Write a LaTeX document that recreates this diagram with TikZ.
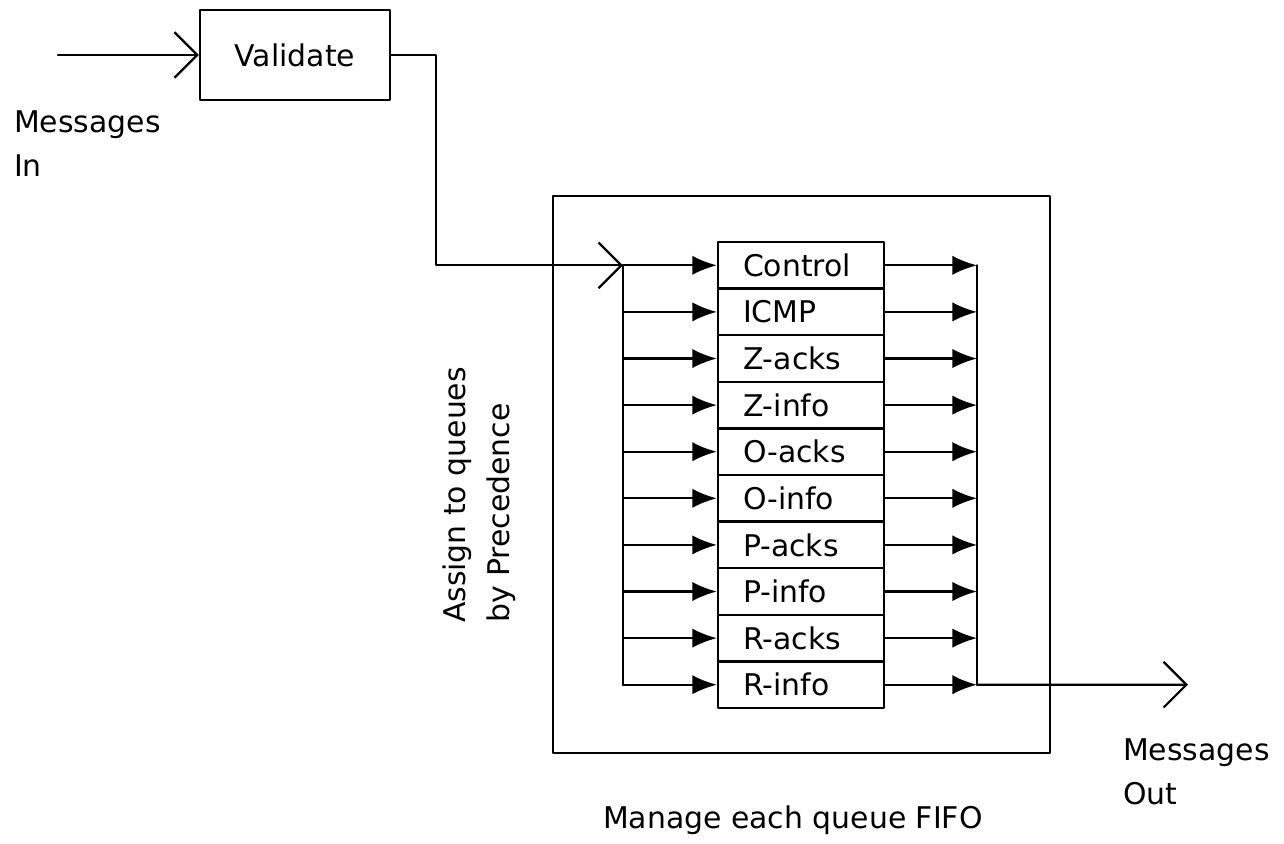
\documentclass[tikz,border=0pt]{standalone}
\usepackage{fontspec}
\setmainfont{DejaVu Sans}
\usetikzlibrary{arrows.meta}
\newcommand\qfont{\fontsize{17}{25}\selectfont}
\begin{document}
\begin{tikzpicture}[x=0.02cm,y=-0.02cm,font=\qfont,line join=round,line cap=round,line width=1.3pt,
  >={Latex[length=14pt,width=11pt]},
  open/.style={-{Straight Barb[length=13pt,width=26pt]}},
  queue/.style={draw,minimum height=0.932cm,text width=2.32cm,inner xsep=0.5cm,inner ysep=0pt,align=left}]
\useasboundingbox (0,0) rectangle (1284,843);
\path
(58,55) coordinate (msgin)
(623,0) coordinate (bin)
(977,0) coordinate (bout)
(1188,684.7) coordinate (msgout)
;
\node[draw,minimum width=3.8cm,minimum height=1.8cm] (val) at (295,55) {Validate};
\node[draw,minimum width=9.94cm,minimum height=11.14cm] (mgr) at (801.5,474.5) {};
\foreach \q [count=\i from 0] in {Control,ICMP,Z-acks,Z-info,O-acks,O-info,P-acks,P-info,R-acks,R-info}
\node[queue] (q\i) at (801,265.3+46.6*\i) {\q};
% input and assignment
\draw[open] (msgin) -- (val.west);
\draw[open] (val.east) -- ++(45,0) |- (q0.west -| bin);
\draw (q0.west -| bin) -- (q9.west -| bin) (q0.east -| bout) -- (q9.east -| bout);
\foreach \i in {0,...,9} {
\draw[->] (q\i.west -| bin) -- (q\i.west);
\draw[->] (q\i.east) -- (q\i.east -| bout);
}
\draw[open] (q9.east -| bout) -- (msgout);
% labels
\node[anchor=base west,align=left,inner sep=0pt] (lin) at (13,176) {Messages\\In};
\node[anchor=base west,align=left,inner sep=0pt] (lout) at (1122,804) {Messages\\Out};
\node[rotate=90,align=left] (assign) at (479,495) {Assign to queues\\by Precedence};
\node[anchor=base west,inner sep=0pt] (fifo) at (602,828) {Manage each queue FIFO};
\end{tikzpicture}
\end{document}
